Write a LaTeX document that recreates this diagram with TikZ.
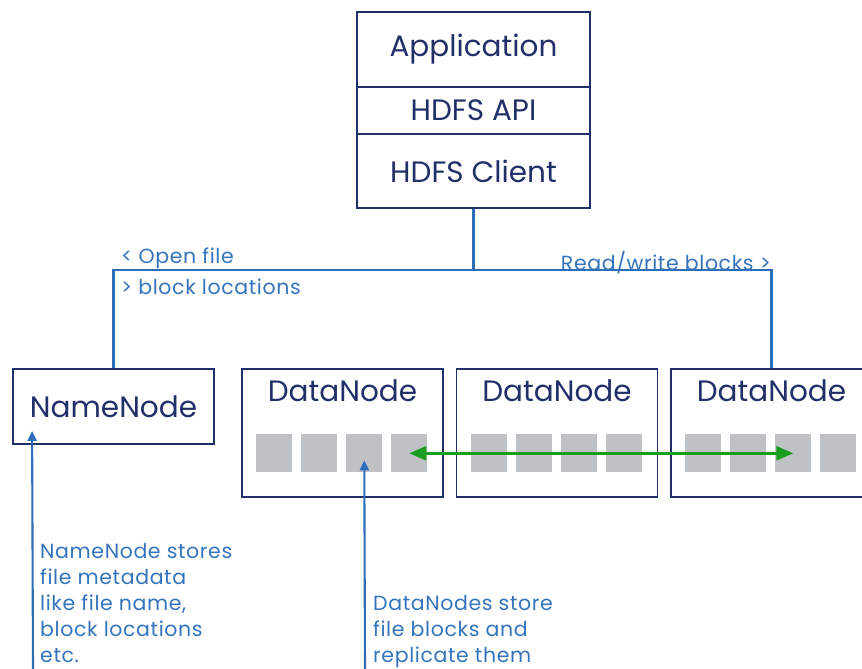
\documentclass[tikz,border=0pt]{standalone}
\usepackage{fontspec}
\setmainfont{Poppins}
\newfontfamily\notefont[LetterSpace=3]{Poppins}
\usetikzlibrary{arrows.meta,positioning}

\definecolor{navy}{HTML}{22306A}
\definecolor{linkblue}{HTML}{2E6DB8}
\definecolor{noteblue}{HTML}{3474BC}
\definecolor{blockgrey}{HTML}{BEC2C5}
\definecolor{replgreen}{HTML}{1B9E1F}

\tikzset{
  box/.style={draw=navy, line width=1.8pt, text=navy, inner sep=0pt,
    font=\fontsize{29.5}{32}\selectfont},
  boxtext/.style={text=navy, inner sep=0pt, font=\fontsize{29.5}{32}\selectfont},
  databox/.style={box, minimum width=201pt, minimum height=128pt},
  block/.style={fill=blockgrey, minimum width=36pt, minimum height=38pt, inner sep=0pt},
  link/.style={draw=linkblue, line width=2.1pt},
  pointer/.style={link, -{Triangle[length=10pt,width=9pt]}},
  repl/.style={draw=replgreen, line width=2.6pt,
    {Triangle[length=17pt,width=14pt]}-{Triangle[length=17pt,width=14pt]}},
  note/.style={text=noteblue, inner sep=0pt, align=left,
    font=\notefont\fontsize{20.5}{26}\selectfont}
}

\begin{document}
\begin{tikzpicture}[x=1pt, y=-1pt]

\clip (0,0) rectangle (862,669);

% Client stack
\node[box, minimum width=233pt, minimum height=75pt] (app) at (473.5,49.5) {Application};
\node[box, minimum width=233pt, minimum height=47pt] (api) at (473.5,110.5) {HDFS API};
\node[box, minimum width=233pt, minimum height=74pt] (client) at (473.5,171) {HDFS Client};

% NameNode
\node[box, minimum width=201pt, minimum height=75pt] (name) at (113.5,406.5) {NameNode};

% DataNodes with their blocks
\foreach \d/\x in {dn1/342.5, dn2/557, dn3/771.5} {
  \node[databox] (\d) at (\x,433) {};
  \node[boxtext, below=11pt of \d.north] (\d-title) {DataNode};
  \foreach \i in {1,...,4}
    \node[block, anchor=north west] (\d-b\i)
      at ([xshift={15pt+45pt*(\i-1)}, yshift=-66pt]\d.north west) {};
}

% Client connections
\coordinate (split) at (473.5,270);
\draw[link] (client.south) -- (split);
\draw[link] (name.north) |- (split) -| (dn3.north);

\node[note, anchor=west] (openfile) at (121,258) {< Open file};
\node[note, anchor=west] (blockloc) at (121,287) {> block locations};
\node[note, anchor=east] (readwrite) at (771,263) {Read/write blocks >};

% Replication
\draw[repl] (dn1-b4.center) -- (dn3-b3.center);

% Notes
\coordinate (namefoot) at (33,669);
\coordinate (datafoot) at (365,669);
\draw[pointer] (namefoot) -- ([xshift=20pt, yshift=14pt]name.south west);
\draw[pointer] (datafoot) -- ([yshift=-7pt]dn1-b3.center);

\node[note, anchor=north west] (namenote) at (40,543)
  {NameNode stores\\file metadata\\like file name,\\block locations\\etc.};
\node[note, anchor=north west] (datanote) at (373,595)
  {DataNodes store\\file blocks and\\replicate them};

\end{tikzpicture}
\end{document}
